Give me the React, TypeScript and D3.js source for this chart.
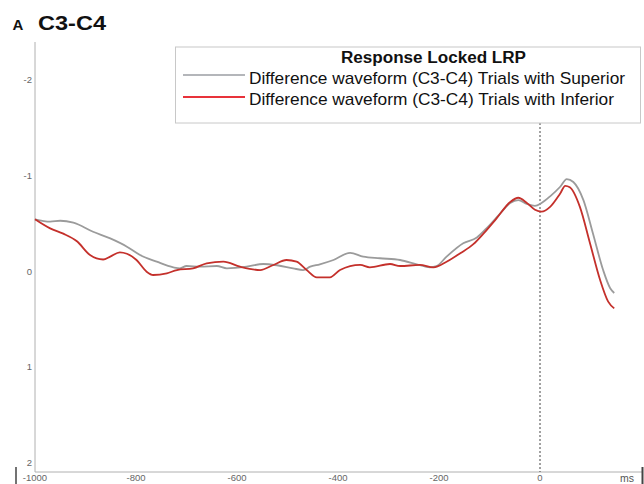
import React from "react";
import * as d3 from "d3";

const timeSup = [-1000,-970,-950,-924,-885,-851,-818,-792,-759,-726,-713,-700,-673,-640,-620,-581,-548,-521,-489,-469,-455,-436,-409,-376,-350,-317,-277,-244,-218,-205,-185,-152,-125,-106,-79,-59,-43,-26,-10,3,20,40,53,66,86,105,125,139,147];
const valSup = [-0.54,-0.515,-0.525,-0.505,-0.41,-0.34,-0.254,-0.167,-0.097,-0.038,-0.028,-0.052,-0.045,-0.052,-0.028,-0.045,-0.073,-0.06,-0.028,-0.01,-0.045,-0.07,-0.115,-0.19,-0.15,-0.133,-0.115,-0.07,-0.038,-0.05,-0.15,-0.29,-0.35,-0.445,-0.6,-0.71,-0.74,-0.7,-0.68,-0.71,-0.78,-0.88,-0.96,-0.93,-0.74,-0.39,-0.01,0.18,0.23];

const timeInf = [-1000,-970,-944,-917,-891,-865,-851,-832,-818,-799,-779,-766,-739,-719,-687,-660,-627,-594,-554,-528,-502,-482,-462,-442,-416,-396,-356,-337,-297,-277,-238,-211,-185,-158,-132,-112,-86,-59,-43,-26,-10,3,20,40,50,59,79,99,119,135,147];
const valInf = [-0.54,-0.445,-0.39,-0.31,-0.167,-0.12,-0.15,-0.195,-0.18,-0.115,0.007,0.042,0.024,-0.01,-0.028,-0.08,-0.097,-0.045,-0.01,-0.063,-0.115,-0.097,-0.01,0.066,0.066,-0.01,-0.063,-0.038,-0.073,-0.052,-0.063,-0.038,-0.097,-0.185,-0.28,-0.39,-0.55,-0.72,-0.765,-0.71,-0.64,-0.62,-0.67,-0.81,-0.89,-0.875,-0.67,-0.29,0.094,0.32,0.39];

const xTicks = [-1000,-800,-600,-400,-200,0];
const yTicks = [-2,-1,0,1,2];
const legendTitle = "Response Locked LRP";
const seriesNames = ["Difference waveform (C3-C4) Trials with Superior","Difference waveform (C3-C4) Trials with Inferior"];
const seriesColors = ["#9b9b9b","#c4302b"];
const legendColors = ["#b4b6ba","#e8323a"];

export default function App() {
  const W = 644, H = 484;
  const x = d3.scaleLinear().domain([-1000, 0]).range([35, 540]);
  const y = d3.scaleLinear().domain([-2, 2]).range([79.5, 462.5]);
  const font = "'Liberation Sans', Arial, sans-serif";
  const mk = (t: number[], v: number[]) =>
    d3.line<number>().x((_, i) => x(t[i])).y((d) => y(d)).curve(d3.curveMonotoneX)(v) || "";
  const nameLen = [376, 365];
  return (
    <svg width={W} height={H} style={{ position: "absolute", left: 0, top: 0, background: "#fff" }}>
      <rect x={0} y={0} width={W} height={H} fill="#fff" />
      <text x={12.5} y={30} fontFamily={font} fontWeight="bold" fontSize={15} fill="#111">A</text>
      <text x={38} y={30} fontFamily={font} fontWeight="bold" fontSize={21} textLength={68} lengthAdjust="spacingAndGlyphs" fill="#111">C3-C4</text>
      {/* y axis */}
      <line x1={35} x2={35} y1={42} y2={472} stroke="#b0b0b0" strokeWidth={1} />
      {yTicks.map((t) => (
        <text key={t} x={32} y={y(t) + 3.5} textAnchor="end" fontFamily={font} fontSize={9.5} fill="#666">{t}</text>
      ))}
      {/* x axis */}
      <line x1={35} x2={642} y1={472} y2={472} stroke="#b0b0b0" strokeWidth={1} />
      {xTicks.map((t) => (
        <text key={t} x={x(t)} y={481} textAnchor="middle" fontFamily={font} fontSize={9.5} fill="#666">{t}</text>
      ))}
      <text x={620} y={482} fontFamily={font} fontSize={10.5} fill="#555">ms</text>
      <line x1={642.5} x2={642.5} y1={467} y2={484} stroke="#444" strokeWidth={2} />
      <line x1={16} x2={16} y1={467} y2={484} stroke="#444" strokeWidth={1.5} />
      {/* zero line */}
      <line x1={x(0)} x2={x(0)} y1={123} y2={472} stroke="#444" strokeWidth={1} strokeDasharray="2,2" />
      {/* series */}
      <path d={mk(timeSup, valSup)} fill="none" stroke={seriesColors[0]} strokeWidth={1.8} />
      <path d={mk(timeInf, valInf)} fill="none" stroke={seriesColors[1]} strokeWidth={1.8} />
      {/* legend */}
      <rect x={175.5} y={47} width={465} height={76} fill="#fff" stroke="#c8c8c8" strokeWidth={1} />
      <text x={341} y={63} fontFamily={font} fontWeight="bold" fontSize={16} textLength={185} lengthAdjust="spacingAndGlyphs" fill="#111">{legendTitle}</text>
      {seriesNames.map((n, i) => (
        <g key={n}>
          <line x1={183} x2={245} y1={75 + i * 22} y2={75 + i * 22} stroke={legendColors[i]} strokeWidth={2.2} />
          <text x={249} y={84 + i * 21} fontFamily={font} fontSize={17} textLength={nameLen[i]} lengthAdjust="spacingAndGlyphs" fill="#111">{n}</text>
        </g>
      ))}
    </svg>
  );
}
